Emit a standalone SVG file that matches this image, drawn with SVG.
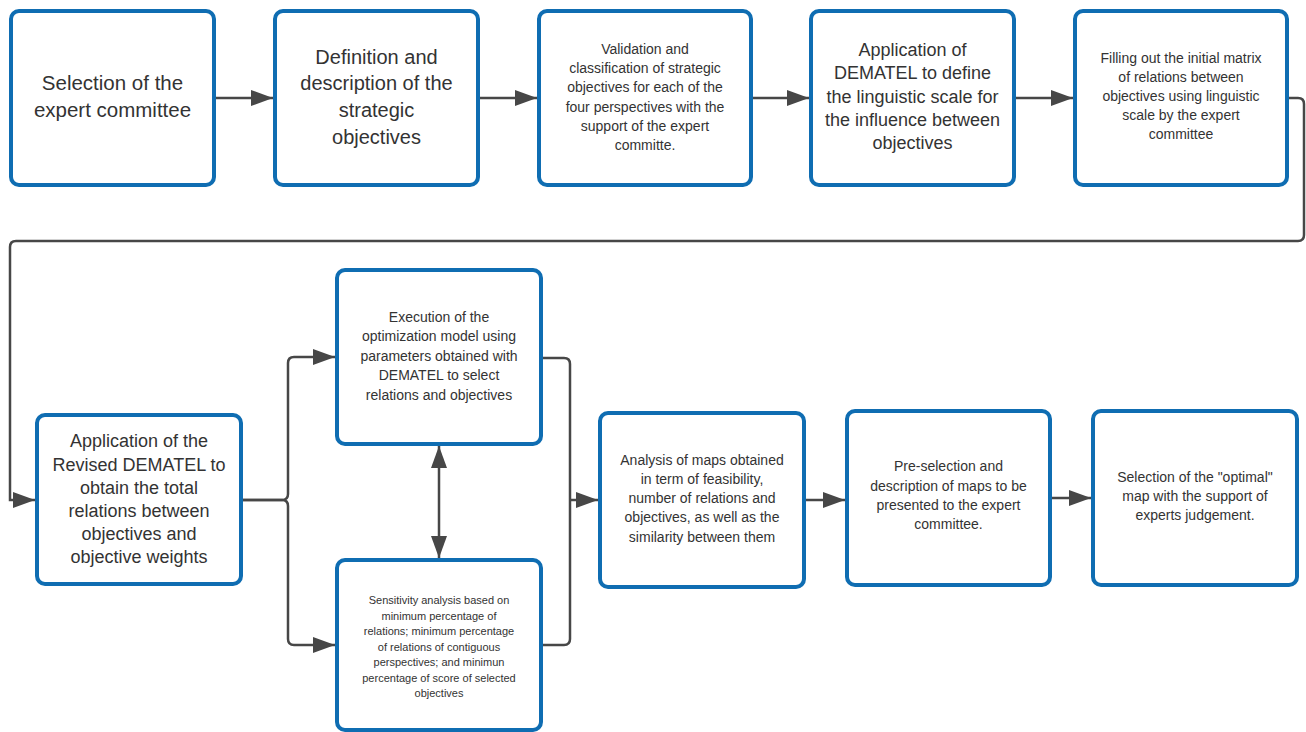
<svg xmlns="http://www.w3.org/2000/svg" width="1306" height="732" viewBox="0 0 1306 732">
<defs>
<style>
.box{fill:#fff;stroke:#0f6db2;stroke-width:4}
.t{font-family:"Liberation Sans",Arial,sans-serif;fill:#333;text-anchor:middle}
.c{fill:none;stroke:#474747;stroke-width:2.5}
</style>
<marker id="ah" markerUnits="userSpaceOnUse" markerWidth="24" markerHeight="18" refX="22" refY="8" orient="auto-start-reverse" viewBox="0 0 24 18">
<path d="M0,0 L22,8 L0,16 z" fill="#474747"/>
</marker>
</defs>
<rect width="1306" height="732" fill="#fff"/>
<g id="connectors">
<path class="c" d="M216,98 H273" marker-end="url(#ah)"/>
<path class="c" d="M480,98 H537" marker-end="url(#ah)"/>
<path class="c" d="M753,98 H809" marker-end="url(#ah)"/>
<path class="c" d="M1016,98 H1073" marker-end="url(#ah)"/>
<path class="c" d="M1289,98 H1298 Q1304,98 1304,104 V235 Q1304,241 1298,241 H16 Q10,241 10,247 V500 H35" marker-end="url(#ah)"/>
<path class="c" d="M243,500 H282 Q288,500 288,494 V363 Q288,357 294,357 H335" marker-end="url(#ah)"/>
<path class="c" d="M243,500 H282 Q288,500 288,506 V639 Q288,645 294,645 H335" marker-end="url(#ah)"/>
<path class="c" d="M543,358 H564 Q570,358 570,364 V639 Q570,645 564,645 H543"/>
<path class="c" d="M570,500 H598" marker-end="url(#ah)"/>
<path class="c" d="M439,446 V558" marker-start="url(#ah)" marker-end="url(#ah)"/>
<path class="c" d="M806,500 H845" marker-end="url(#ah)"/>
<path class="c" d="M1052,498 H1091" marker-end="url(#ah)"/>
</g>
<g id="n1"><rect class="box" x="11" y="11" width="203" height="174" rx="8"/>
<text class="t" font-size="20.5"><tspan x="112.5" y="90">Selection of the</tspan><tspan x="112.5" y="117">expert committee</tspan></text></g>
<g id="n2"><rect class="box" x="275" y="11" width="203" height="174" rx="8"/>
<text class="t" font-size="20"><tspan x="376.5" y="64">Definition and</tspan><tspan x="376.5" y="90">description of the</tspan><tspan x="376.5" y="117">strategic</tspan><tspan x="376.5" y="144">objectives</tspan></text></g>
<g id="n3"><rect class="box" x="539" y="11" width="212" height="174" rx="8"/>
<text class="t" font-size="14"><tspan x="645" y="54">Validation and</tspan><tspan x="645" y="73">classification of strategic</tspan><tspan x="645" y="92">objectives for each of the</tspan><tspan x="645" y="112">four perspectives with the</tspan><tspan x="645" y="131">support of the expert</tspan><tspan x="645" y="150">committe.</tspan></text></g>
<g id="n4"><rect class="box" x="811" y="11" width="203" height="174" rx="8"/>
<text class="t" font-size="18"><tspan x="912.5" y="56">Application of</tspan><tspan x="912.5" y="79">DEMATEL to define</tspan><tspan x="912.5" y="103">the linguistic scale for</tspan><tspan x="912.5" y="126">the influence between</tspan><tspan x="912.5" y="149">objectives</tspan></text></g>
<g id="n5"><rect class="box" x="1075" y="11" width="212" height="174" rx="8"/>
<text class="t" font-size="14"><tspan x="1181" y="63">Filling out the initial matrix</tspan><tspan x="1181" y="82">of relations between</tspan><tspan x="1181" y="101">objectives using linguistic</tspan><tspan x="1181" y="120">scale by the expert</tspan><tspan x="1181" y="139">committee</tspan></text></g>
<g id="n6"><rect class="box" x="37" y="415" width="204" height="169" rx="8"/>
<text class="t" font-size="18"><tspan x="139" y="447">Application of the</tspan><tspan x="139" y="471">Revised DEMATEL to</tspan><tspan x="139" y="494">obtain the total</tspan><tspan x="139" y="517">relations between</tspan><tspan x="139" y="540">objectives and</tspan><tspan x="139" y="563">objective weights</tspan></text></g>
<g id="n7"><rect class="box" x="337" y="270" width="204" height="174" rx="8"/>
<text class="t" font-size="14"><tspan x="439" y="322">Execution of the</tspan><tspan x="439" y="341">optimization model using</tspan><tspan x="439" y="361">parameters obtained with</tspan><tspan x="439" y="380">DEMATEL to select</tspan><tspan x="439" y="400">relations and objectives</tspan></text></g>
<g id="n8"><rect class="box" x="337" y="560" width="204" height="170" rx="8"/>
<text class="t" font-size="11"><tspan x="439" y="604">Sensitivity analysis based on</tspan><tspan x="439" y="620">minimum percentage of</tspan><tspan x="439" y="635">relations; minimum percentage</tspan><tspan x="439" y="651">of relations of contiguous</tspan><tspan x="439" y="666">perspectives; and minimun</tspan><tspan x="439" y="682">percentage of score of selected</tspan><tspan x="439" y="697">objectives</tspan></text></g>
<g id="n9"><rect class="box" x="600" y="413" width="204" height="174" rx="8"/>
<text class="t" font-size="14"><tspan x="702" y="465">Analysis of maps obtained</tspan><tspan x="702" y="484">in term of feasibility,</tspan><tspan x="702" y="503">number of relations and</tspan><tspan x="702" y="522">objectives, as well as the</tspan><tspan x="702" y="542">similarity between them</tspan></text></g>
<g id="n10"><rect class="box" x="847" y="411" width="203" height="174" rx="8"/>
<text class="t" font-size="14"><tspan x="948.5" y="471">Pre-selection and</tspan><tspan x="948.5" y="491">description of maps to be</tspan><tspan x="948.5" y="510">presented to the expert</tspan><tspan x="948.5" y="529">committee.</tspan></text></g>
<g id="n11"><rect class="box" x="1093" y="411" width="204" height="174" rx="8"/>
<text class="t" font-size="14"><tspan x="1195" y="482">Selection of the "optimal"</tspan><tspan x="1195" y="501">map with the support of</tspan><tspan x="1195" y="520">experts judgement.</tspan></text></g>
</svg>
